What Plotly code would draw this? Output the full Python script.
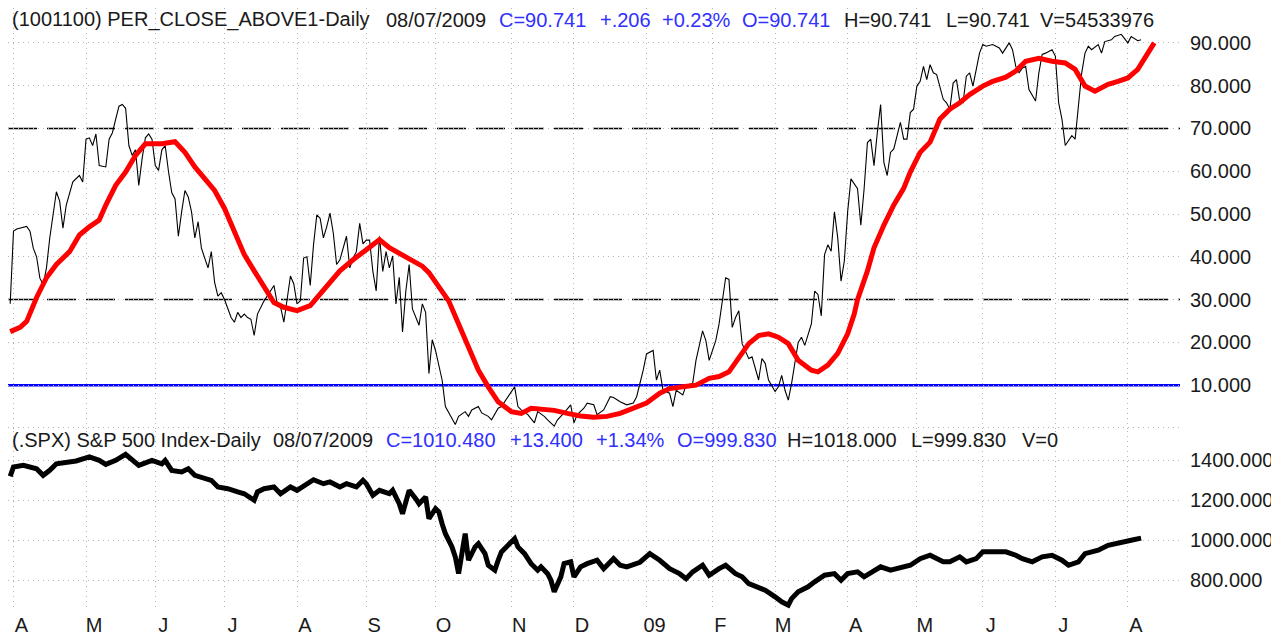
import plotly.graph_objects as go

# ---------------- data (trading-day index from 31 Mar 2008) ----------------
month_idx = [1, 23, 44, 65, 87, 108, 129, 152, 171, 193, 213, 232, 254, 275, 295, 317, 339]
month_lbl = ["A", "M", "J", "J", "A", "S", "O", "N", "D", "09", "F", "M", "A", "M", "J", "J", "A"]

top_ticks = [0, 10, 20, 30, 40, 50, 60, 70, 80, 90]
top_tick_text = ["", "10.000", "20.000", "30.000", "40.000", "50.000", "60.000", "70.000", "80.000", "90.000"]
bot_ticks = [800, 1000, 1200, 1400]
levels_dash = [30, 70]
level_blue = 10

breadth_day = [0, 1, 2, 5, 6, 7, 8, 9, 10, 11, 12, 13, 14, 15, 16, 17, 19, 21, 22, 23, 24, 25, 26, 27, 29,
               30, 31, 32, 33, 34, 35, 36, 37, 38, 39, 40, 41, 42, 43, 44, 45, 46, 47, 48, 49, 50, 51, 52,
               53, 54, 55, 56, 57, 58, 59, 60, 61, 62, 63, 64, 65, 66, 67, 68, 69, 70, 71, 72, 73, 74, 75,
               77, 78, 79, 80, 81, 82, 83, 84, 85, 86, 87, 88, 89, 90, 91, 92, 93, 94, 95, 96, 97, 98, 99,
               100, 102, 103, 104, 105, 106, 107, 108, 109, 110, 111, 112, 113, 114, 115, 116, 117, 118,
               119, 120, 121, 122, 124, 125, 126, 127, 128, 129, 131, 132, 135, 136, 138, 139, 140, 142,
               143, 145, 146, 148, 149, 151, 153, 154, 155, 157, 159, 160, 162, 163, 165, 166, 168, 170,
               171, 172, 174, 175, 177, 178, 180, 182, 183, 185, 187, 189, 190, 192, 193, 195, 196, 197,
               198, 200, 201, 202, 204, 205, 207, 208, 210, 211, 212, 214, 215, 217, 218, 219, 220, 221,
               222, 224, 225, 227, 228, 229, 230, 232, 233, 234, 235, 236, 237, 239, 240, 241, 243, 244,
               245, 246, 247, 248, 249, 250, 251, 252, 253, 254, 255, 257, 258, 259, 260, 261, 262, 263,
               264, 265, 266, 267, 268, 269, 270, 271, 272, 273, 274, 275, 276, 277, 278, 279, 280, 281,
               283, 284, 285, 286, 287, 288, 289, 290, 291, 292, 293, 294, 295, 296, 298, 300, 301, 303,
               304, 305, 306, 307, 308, 309, 311, 312, 313, 314, 316, 317, 318, 319, 320, 322, 323, 324,
               325, 326, 327, 328, 330, 331, 332, 334, 335, 337, 339, 340, 342, 343]
breadth_val = [29, 46, 46.5, 47.1, 46, 42, 40, 35, 33.5, 37.4, 44.4, 50, 55.2, 53, 46.7, 52.1, 57.5, 59, 57.5,
               67.5, 67.8, 66, 68.7, 61.3, 61, 67.5, 69, 72.2, 75.2, 75.6, 74.7, 66, 63.7, 65, 56.7, 62.9,
               67.8, 68.7, 67.5, 61.3, 60.2, 65, 66, 60, 55, 53.5, 44.8, 50.5, 55.5, 54, 50.5, 44.4, 48.2,
               42, 39.7, 37.4, 41.2, 34, 30.8, 31.6, 30, 28, 25.8, 24.7, 27, 25.8, 26.6, 25.8, 25.4, 21.6,
               26.6, 29.7, 30.8, 32, 33.3, 29, 28.3, 24.7, 29.7, 35.5, 33.7, 29, 29.7, 39.7, 40, 33.3, 42.8,
               49.8, 49, 44.4, 47, 50.2, 45.5, 38.2, 39.3, 44.8, 37.4, 39.7, 41.2, 47.8, 43, 43.9, 43.9,
               36.6, 32, 44.8, 36.6, 41.2, 37.4, 40.2, 29, 35.2, 22.4, 32, 38.2, 27.8, 24, 29, 27, 12.7,
               20.6, 18.1, 11.2, 5, 0.8, 2.7, 3.8, 2.7, 4.2, 5, 3.5, 2.7, 1.9, 4.6, 5, 7.3, 9.6, 5, 4.2,
               3.1, 1.2, 3.8, 2.7, 1.9, 0.4, 1.9, 3.5, 5.4, 1.2, 3.1, 4.6, 5.8, 5.4, 3.1, 4.2, 7.3, 7.1,
               6.1, 5.4, 5.8, 7.3, 13.5, 17.3, 18.1, 11.2, 13.5, 8.8, 8.1, 5, 8.8, 7.7, 10, 10.4, 15.8,
               22.7, 20.4, 15.8, 20.4, 24.3, 35.1, 34.7, 23.5, 25.8, 27.4, 19.7, 16.2, 16.6, 11.2, 16.2,
               15.1, 11.2, 8.5, 9.6, 12.3, 8.8, 6.5, 10.4, 20, 21.2, 19.3, 24.3, 32, 31.2, 26.2, 40.5,
               42.8, 41.3, 50.5, 44.4, 34.3, 39, 50.5, 58.2, 55.9, 47.4, 55.9, 66.7, 67.5, 61.3, 69,
               75.6, 62, 59, 64.4, 65.2, 68.3, 71.4, 67.5, 67.5, 73.7, 74.5, 79.9, 81, 84.5, 81.4, 84.9,
               83, 82.6, 76.8, 76, 74.5, 80.6, 81.4, 76.4, 76, 82.2, 83, 79.9, 83.4, 87.6, 89.6, 89.2,
               89.6, 88.8, 87.6, 90, 88.4, 84.5, 83, 84.1, 84.5, 79.1, 76.4, 83, 87.3, 87.6, 88.4, 86.9,
               76, 72.2, 66, 68.3, 67.5, 76, 83, 87.6, 89.2, 88.4, 89.6, 87.6, 90.3, 90.7, 91.5, 92, 90,
               91.5, 90.5, 90.741]

ma_day = [0, 3, 5, 8, 11, 14, 18, 21, 24, 27, 29, 32, 35, 38, 41, 46, 50, 53, 56, 59, 62, 65, 68, 71, 74,
          77, 80, 83, 87, 91, 94, 97, 100, 104, 108, 112, 115, 118, 122, 125, 127, 130, 133, 136, 139,
          142, 145, 148, 152, 155, 158, 161, 165, 169, 173, 177, 181, 185, 189, 193, 197, 200, 204, 208,
          212, 215, 218, 221, 224, 227, 230, 233, 236, 239, 243, 245, 248, 251, 254, 256, 257, 260, 262,
          265, 268, 271, 273, 276, 279, 282, 285, 288, 291, 295, 298, 302, 305, 308, 312, 316, 320, 323,
          326, 329, 333, 336, 339, 342, 344, 347]
ma_val = [22.5, 23.5, 24.9, 30.5, 35.1, 38.2, 41.2, 45.1, 47, 48.6, 52.1, 56.7, 59.8, 63.7, 66.4, 66.4,
          66.9, 64.4, 61, 58.3, 55.5, 51.3, 45.9, 40.5, 36.7, 32.8, 29.3, 28.2, 27.4, 28.6, 31.2, 34,
          36.7, 39.3, 41.7, 44, 42.1, 40.9, 39.3, 37.8, 36.3, 33.2, 29.7, 24.3, 18.9, 13.5, 9.6, 6.1,
          3.8, 3.4, 4.6, 4.4, 4.1, 3.4, 2.8, 2.5, 2.7, 3.4, 4.6, 5.8, 8.1, 9.2, 9.6, 10, 11.6, 12, 13.1,
          16.6, 19.7, 21.6, 22, 21.2, 19.7, 15.8, 13.5, 13.1, 14.7, 17.4, 22, 26.6, 30, 36.7, 42.1,
          47.4, 52.1, 56, 59.8, 64.4, 66.8, 72.2, 74.5, 76, 77.9, 79.9, 81, 82, 83.4, 85.7, 86.4, 85.7,
          85.3, 83.8, 79.9, 78.7, 80.3, 81, 81.8, 83.8, 86.5, 90]

spx_day = [0, 1, 4, 8, 10, 12, 14, 17, 20, 24, 27, 29, 32, 35, 37, 39, 43, 46, 47, 49, 52, 54, 56, 59, 61,
           63, 66, 69, 71, 74, 75, 77, 80, 82, 85, 87, 90, 92, 95, 97, 100, 102, 105, 107, 108, 110, 112,
           115, 116, 118, 119, 121, 123, 124, 126, 127, 129, 130, 131, 132, 134, 135, 136, 137, 138, 139,
           141, 142, 144, 145, 147, 148, 149, 151, 153, 154, 156, 158, 160, 161, 163, 164, 165, 167, 168,
           170, 171, 173, 175, 178, 180, 183, 185, 187, 191, 194, 197, 200, 203, 205, 207, 210, 212, 215,
           217, 220, 222, 224, 227, 229, 232, 234, 236, 237, 239, 242, 244, 247, 250, 252, 254, 257, 259,
           262, 264, 267, 269, 273, 276, 279, 283, 285, 288, 290, 293, 295, 299, 302, 305, 307, 310, 313,
           316, 319, 321, 324, 326, 330, 333, 337, 340, 343]
spx_val = [1320, 1367, 1375, 1358, 1325, 1350, 1383, 1392, 1397, 1417, 1400, 1380, 1400, 1430, 1400, 1375,
           1400, 1383, 1400, 1350, 1342, 1358, 1325, 1308, 1300, 1267, 1258, 1242, 1233, 1200, 1242, 1258,
           1267, 1233, 1267, 1250, 1283, 1303, 1283, 1292, 1267, 1283, 1267, 1300, 1283, 1225, 1250, 1233,
           1250, 1183, 1133, 1250, 1208, 1183, 1217, 1108, 1158, 1142, 1083, 1033, 967, 917, 833, 917, 1033,
           900, 967, 983, 933, 875, 850, 900, 942, 975, 1008, 967, 933, 883, 850, 867, 833, 800, 742, 817,
           883, 892, 817, 867, 883, 900, 858, 908, 875, 867, 890, 933, 900, 858, 833, 808, 842, 875, 825,
           858, 875, 833, 817, 783, 767, 750, 717, 692, 675, 708, 742, 767, 792, 825, 833, 800, 833, 842,
           817, 850, 867, 850, 858, 875, 908, 925, 892, 892, 917, 892, 908, 942, 942, 942, 925, 908, 892,
           917, 925, 900, 875, 892, 933, 950, 975, 992, 1000, 1010.48]

top_title = [("(1001100) PER_CLOSE_ABOVE1-Daily", 10, "dark"), ("08/07/2009", 384, "dark"),
             ("C=90.741", 497, "blue"), ("+.206", 598, "blue"), ("+0.23%", 660, "blue"),
             ("O=90.741", 740, "blue"), ("H=90.741", 842, "dark"), ("L=90.741", 944, "dark"),
             ("V=54533976", 1038, "dark")]
bot_title = [("(.SPX) S&P 500 Index-Daily", 10, "dark"), ("08/07/2009", 271, "dark"),
             ("C=1010.480", 384, "blue"), ("+13.400", 508, "blue"), ("+1.34%", 594, "blue"),
             ("O=999.830", 675, "blue"), ("H=1018.000", 785, "dark"), ("L=999.830", 909, "dark"),
             ("V=0", 1020, "dark")]

# ---------------- layout geometry (page body has an 8px default margin) ----------------
OFF = 8
W, H = 1279 - OFF, 636 - OFF
L, R, T, B = 0, 99, 0, 22
PW, PH = W - L - R, H - T - B
FONT = "Liberation Sans, Arial, sans-serif"
COLORS = {"dark": "#1a1a1a", "blue": "#3030ff"}
GRID = "#b4b4b4"
PX_PER_UNIT = 4.32  # top panel, page pixels per percent


def paper_x(px):
    return (px - OFF - L) / PW


def paper_y(py):
    return 1 - (py - OFF - T) / PH


top_dom = [paper_y(432), 1]
bot_dom = [0, paper_y(434)]
top_range = [-0.3, 100 - OFF / PX_PER_UNIT]
xr = [(OFF - 10.2) / 3.297, (1180 - 10.2) / 3.297]

fig = go.Figure()
fig.add_trace(go.Scatter(x=breadth_day, y=breadth_val, mode="lines",
                         line=dict(color="black", width=1.1), xaxis="x", yaxis="y", hoverinfo="skip"))
fig.add_trace(go.Scatter(x=ma_day, y=ma_val, mode="lines",
                         line=dict(color="#ff0000", width=5), xaxis="x", yaxis="y", hoverinfo="skip"))
fig.add_trace(go.Scatter(x=spx_day, y=spx_val, mode="lines",
                         line=dict(color="black", width=5), xaxis="x2", yaxis="y2", hoverinfo="skip"))

for lv in levels_dash:
    fig.add_shape(type="line", xref="x domain", yref="y", x0=0, x1=1, y0=lv, y1=lv,
                  line=dict(color="black", width=1.6, dash="29px,10px"), layer="below")
fig.add_shape(type="line", xref="x domain", yref="y", x0=0, x1=1, y0=level_blue, y1=level_blue,
              line=dict(color="#0000ff", width=2.5), layer="below")

ax_common = dict(range=xr, tickvals=month_idx, showgrid=True, gridcolor=GRID, griddash="1px,4px",
                 gridwidth=1, zeroline=False, showline=False, ticks="")
fig.update_layout(
    width=W, height=H, margin=dict(l=L, r=R, t=T, b=B),
    paper_bgcolor="white", plot_bgcolor="white", showlegend=False,
    font=dict(family=FONT, size=20, color="black"),
    xaxis=dict(**ax_common, anchor="y", showticklabels=False),
    xaxis2=dict(**ax_common, anchor="y2", matches="x", ticktext=month_lbl, ticklabelshift=8,
                ticklabelstandoff=1, tickfont=dict(size=20, color="#1a1a1a")),
    yaxis=dict(domain=top_dom, range=top_range, side="right", tickvals=top_ticks, ticktext=top_tick_text,
               showgrid=True, gridcolor=GRID, griddash="1px,4px", zeroline=False, ticks="",
               ticklabelstandoff=9, tickfont=dict(size=20, color="#1a1a1a")),
    yaxis2=dict(domain=bot_dom, range=[651, 1546], side="right", tickvals=bot_ticks, tickformat=".3f",
                showgrid=True, gridcolor=GRID, griddash="1px,4px", zeroline=False, ticks="",
                ticklabelstandoff=9, tickfont=dict(size=20, color="#1a1a1a")),
)

for items, py in ((top_title, 20), (bot_title, 443)):
    for txt, px, col in items:
        fig.add_annotation(text=txt, xref="paper", yref="paper", x=paper_x(px), y=paper_y(py),
                           xanchor="left", yanchor="middle", showarrow=False,
                           font=dict(family=FONT, size=20, color=COLORS[col]), bgcolor="rgba(0,0,0,0)")

fig.write_html("out.html")
